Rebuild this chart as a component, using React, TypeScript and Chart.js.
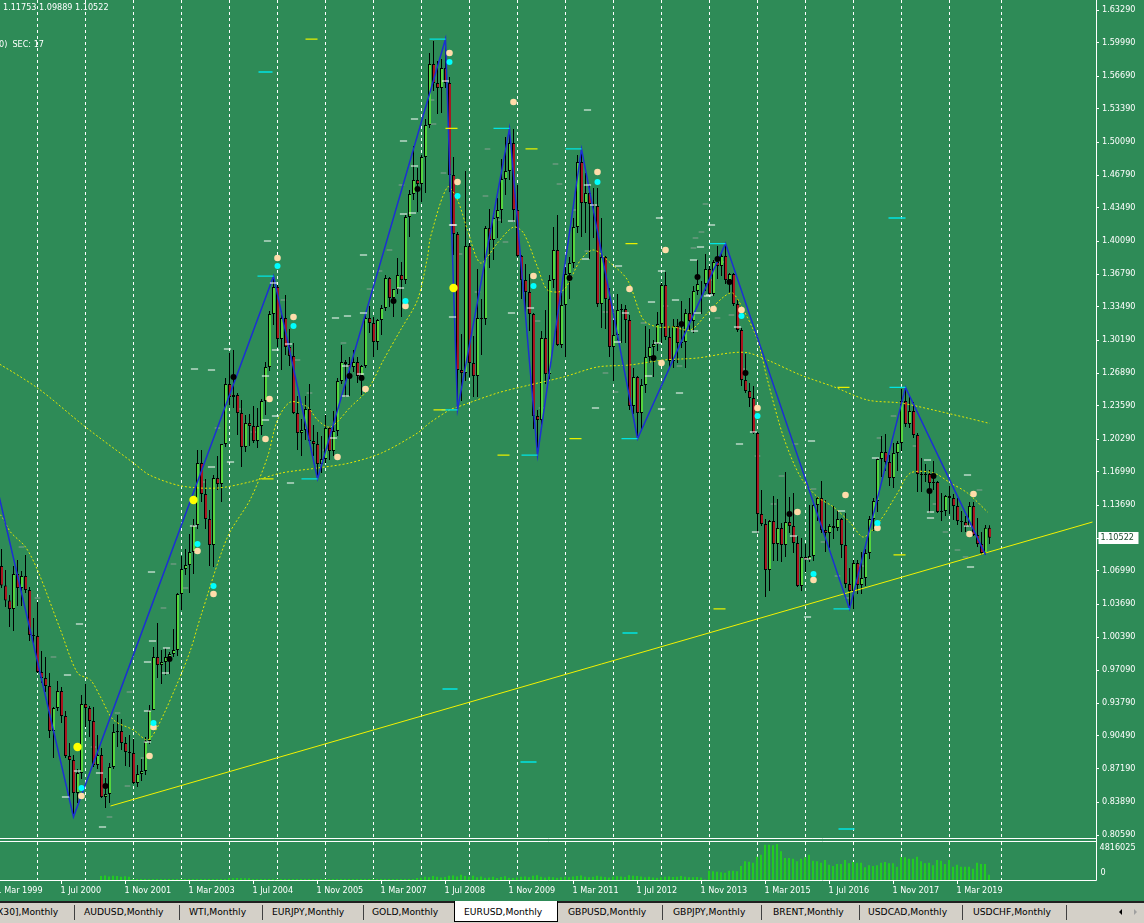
import React, { useEffect, useRef } from 'react';
import { Chart, registerables } from 'chart.js';
Chart.register(...registerables);

// month index: 0 = Jan 1999 ... 250 = Nov 2019
const opens = [
  1.1790,1.1580,1.0995,1.0770,1.0575,1.0425,1.0340,1.0690,1.0550,1.0670,1.0530,1.0080,
  1.0070,0.9710,0.9650,0.9570,0.9120,0.9350,0.9520,0.9270,0.8870,0.8830,0.8500,0.8700,
  0.9390,0.9350,0.9220,0.8780,0.8880,0.8460,0.8490,0.8760,0.9110,0.9120,0.9000,0.8910,
  0.8900,0.8600,0.8690,0.8720,0.9020,0.9330,0.9860,0.9780,0.9810,0.9860,0.9890,0.9930,
  1.0490,1.0740,1.0780,1.0910,1.1180,1.1800,1.1490,1.1240,1.0980,1.1650,1.1590,1.1990,
  1.2590,1.2460,1.2480,1.2300,1.1960,1.2200,1.2170,1.2020,1.2170,1.2420,1.2760,1.3290,
  1.3560,1.3040,1.3250,1.2960,1.2870,1.2300,1.2100,1.2130,1.2340,1.2020,1.1990,1.1790,
  1.1840,1.2150,1.1920,1.2120,1.2620,1.2810,1.2790,1.2760,1.2810,1.2670,1.2770,1.3250,
  1.3200,1.3010,1.3230,1.3350,1.3650,1.3450,1.3540,1.3680,1.3630,1.4260,1.4490,1.4630,
  1.4590,1.4860,1.5180,1.5790,1.5600,1.5550,1.5750,1.5600,1.4680,1.4090,1.2730,1.2700,
  1.3970,1.2800,1.2670,1.3250,1.3240,1.4150,1.4030,1.4250,1.4330,1.4640,1.4720,1.5000,
  1.4330,1.3870,1.3630,1.3510,1.3290,1.2270,1.2230,1.3050,1.2690,1.3630,1.3930,1.2980,
  1.3380,1.3690,1.3800,1.4160,1.4810,1.4400,1.4500,1.4390,1.4370,1.3390,1.3860,1.3440,
  1.2960,1.3080,1.3330,1.3340,1.3230,1.2370,1.2660,1.2300,1.2580,1.2860,1.2960,1.2990,
  1.3190,1.3580,1.3060,1.2820,1.3170,1.3000,1.3010,1.3300,1.3220,1.3520,1.3590,1.3590,
  1.3740,1.3490,1.3810,1.3770,1.3870,1.3630,1.3690,1.3390,1.3130,1.2630,1.2520,1.2450,
  1.2100,1.1290,1.1190,1.0730,1.1220,1.0990,1.1150,1.0980,1.1210,1.1170,1.1000,1.0570,
  1.0860,1.0830,1.0870,1.1380,1.1450,1.1130,1.1100,1.1170,1.1150,1.1240,1.0980,1.0590,
  1.0520,1.0800,1.0580,1.0650,1.0900,1.1240,1.1420,1.1840,1.1910,1.1810,1.1650,1.1900,
  1.2000,1.2420,1.2190,1.2320,1.2080,1.1690,1.1680,1.1690,1.1600,1.1610,1.1310,1.1320,
  1.1470,1.1450,1.1370,1.1220,1.1210,1.1170,1.1370,1.1080,1.0990,1.0900,1.1152,
];
const highs = [
  1.1880,1.1590,1.1030,1.0940,1.0730,1.0480,1.0770,1.0830,1.0720,1.0880,1.0560,1.0250,
  1.0410,0.9920,0.9860,0.9700,0.9360,0.9620,0.9560,0.9320,0.9000,0.8880,0.8740,0.9480,
  0.9590,0.9370,0.9360,0.9080,0.8950,0.8650,0.8800,0.9190,0.9280,0.9240,0.9060,0.9080,
  0.9040,0.8780,0.8840,0.9060,0.9380,0.9960,1.0200,0.9930,0.9950,0.9910,1.0140,1.0500,
  1.0870,1.0940,1.1090,1.1240,1.1930,1.1930,1.1640,1.1330,1.1680,1.1870,1.1990,1.2650,
  1.2900,1.2930,1.2500,1.2430,1.2280,1.2290,1.2370,1.2350,1.2440,1.2810,1.3320,1.3667,
  1.3580,1.3320,1.3480,1.3140,1.3000,1.2470,1.2240,1.2470,1.2590,1.2180,1.2110,1.2070,
  1.2280,1.2160,1.2320,1.2650,1.2980,1.2830,1.2860,1.2930,1.2860,1.2780,1.3280,1.3370,
  1.3260,1.3240,1.3380,1.3680,1.3660,1.3530,1.3850,1.3810,1.4280,1.4530,1.4970,1.4750,
  1.4880,1.5240,1.5900,1.6020,1.5820,1.5840,1.6038,1.5660,1.4860,1.4110,1.3090,1.4720,
  1.4000,1.3070,1.3740,1.3440,1.4170,1.4340,1.4300,1.4450,1.4840,1.5060,1.5145,1.5140,
  1.4580,1.3880,1.3790,1.3690,1.3300,1.2330,1.3120,1.3330,1.3680,1.4160,1.4280,1.3500,
  1.3760,1.3860,1.4250,1.4880,1.4940,1.4700,1.4580,1.4550,1.4550,1.4250,1.3870,1.3550,
  1.3230,1.3490,1.3390,1.3380,1.3280,1.2750,1.2670,1.2640,1.3170,1.3140,1.3030,1.3310,
  1.3600,1.3710,1.3170,1.3240,1.3240,1.3420,1.3340,1.3450,1.3570,1.3830,1.3620,1.3890,
  1.3770,1.3830,1.3970,1.3910,1.3993,1.3700,1.3700,1.3440,1.3150,1.2890,1.2600,1.2570,
  1.2110,1.1530,1.1240,1.1230,1.1470,1.1440,1.1200,1.1710,1.1460,1.1500,1.1070,1.1050,
  1.0990,1.1380,1.1410,1.1460,1.1620,1.1430,1.1190,1.1370,1.1330,1.1250,1.1300,1.0750,
  1.0830,1.0830,1.0910,1.0940,1.1270,1.1450,1.1850,1.2070,1.2090,1.1880,1.2000,1.2020,
  1.2540,1.2555,1.2480,1.2410,1.2100,1.1850,1.1790,1.1730,1.1820,1.1620,1.1500,1.1480,
  1.1570,1.1490,1.1450,1.1320,1.1270,1.1410,1.1410,1.1250,1.1110,1.1180,1.11753,
];
const lows = [
  1.1320,1.0950,1.0710,1.0550,1.0360,1.0160,1.0120,1.0370,1.0370,1.0500,1.0020,0.9990,
  0.9700,0.9600,0.9510,0.9050,0.8850,0.9320,0.9200,0.8850,0.8460,0.8261,0.8400,0.8640,
  0.9160,0.9060,0.8760,0.8740,0.8450,0.8350,0.8400,0.8740,0.8960,0.8930,0.8770,0.8760,
  0.8590,0.8560,0.8620,0.8680,0.8990,0.9330,0.9650,0.9590,0.9680,0.9690,0.9860,0.9870,
  1.0330,1.0680,1.0500,1.0690,1.1140,1.1410,1.1140,1.0770,1.0760,1.1530,1.1410,1.1960,
  1.2380,1.2350,1.2080,1.1760,1.1910,1.1970,1.2000,1.1950,1.2080,1.2280,1.2720,1.3180,
  1.2960,1.2730,1.2880,1.2770,1.2290,1.1930,1.1870,1.2030,1.2000,1.1870,1.1640,1.1700,
  1.1800,1.1830,1.1870,1.2070,1.2590,1.2460,1.2470,1.2710,1.2600,1.2480,1.2750,1.3100,
  1.2860,1.2930,1.3080,1.3320,1.3360,1.3260,1.3490,1.3260,1.3590,1.4060,1.4430,1.4310,
  1.4410,1.4500,1.5150,1.5520,1.5290,1.5300,1.5550,1.4510,1.3880,1.2330,1.2420,1.2620,
  1.2660,1.2460,1.2460,1.2880,1.3180,1.3750,1.3830,1.4050,1.4200,1.4480,1.4630,1.4210,
  1.3860,1.3440,1.3270,1.3120,1.2140,1.1877,1.2150,1.2590,1.2640,1.3550,1.2970,1.2950,
  1.2860,1.3440,1.3750,1.4100,1.4060,1.4100,1.3840,1.4050,1.3360,1.3150,1.3140,1.2860,
  1.2620,1.3030,1.3000,1.3000,1.2330,1.2290,1.2042,1.2130,1.2500,1.2800,1.2660,1.2920,
  1.3000,1.3030,1.2750,1.2750,1.2800,1.2950,1.2750,1.3130,1.3100,1.3480,1.3290,1.3520,
  1.3480,1.3470,1.3640,1.3670,1.3590,1.3500,1.3370,1.3110,1.2570,1.2500,1.2360,1.2090,
  1.1100,1.1170,1.0460,1.0520,1.0820,1.0820,1.0810,1.0860,1.1100,1.0900,1.0560,1.0520,
  1.0710,1.0810,1.0820,1.1220,1.1100,1.0910,1.0950,1.1040,1.1120,1.0850,1.0550,1.0340,
  1.0340,1.0490,1.0490,1.0570,1.0840,1.1120,1.1310,1.1660,1.1720,1.1570,1.1550,1.1720,
  1.1920,1.2160,1.2150,1.2050,1.1510,1.1510,1.1610,1.1300,1.1530,1.1300,1.1220,1.1270,
  1.1290,1.1230,1.1180,1.1110,1.1110,1.1160,1.1070,1.0960,1.0880,1.0879,1.09889,
];
const closes = [
  1.1580,1.0995,1.0770,1.0575,1.0425,1.0340,1.0690,1.0550,1.0670,1.0530,1.0080,1.0070,
  0.9710,0.9650,0.9570,0.9120,0.9350,0.9520,0.9270,0.8870,0.8830,0.8500,0.8700,0.9390,
  0.9350,0.9220,0.8780,0.8880,0.8460,0.8490,0.8760,0.9110,0.9120,0.9000,0.8910,0.8900,
  0.8600,0.8690,0.8720,0.9020,0.9330,0.9860,0.9780,0.9810,0.9860,0.9890,0.9930,1.0490,
  1.0740,1.0780,1.0910,1.1180,1.1800,1.1490,1.1240,1.0980,1.1650,1.1590,1.1990,1.2590,
  1.2460,1.2480,1.2300,1.1960,1.2200,1.2170,1.2020,1.2170,1.2420,1.2760,1.3290,1.3560,
  1.3040,1.3250,1.2960,1.2870,1.2300,1.2100,1.2130,1.2340,1.2020,1.1990,1.1790,1.1840,
  1.2150,1.1920,1.2120,1.2620,1.2810,1.2790,1.2760,1.2810,1.2670,1.2770,1.3250,1.3200,
  1.3010,1.3230,1.3350,1.3650,1.3450,1.3540,1.3680,1.3630,1.4260,1.4490,1.4630,1.4590,
  1.4860,1.5180,1.5790,1.5600,1.5550,1.5750,1.5600,1.4680,1.4090,1.2730,1.2700,1.3970,
  1.2800,1.2670,1.3250,1.3240,1.4150,1.4030,1.4250,1.4330,1.4640,1.4720,1.5000,1.4330,
  1.3870,1.3630,1.3510,1.3290,1.2270,1.2230,1.3050,1.2690,1.3630,1.3930,1.2980,1.3380,
  1.3690,1.3800,1.4160,1.4810,1.4400,1.4500,1.4390,1.4370,1.3390,1.3860,1.3440,1.2960,
  1.3080,1.3330,1.3340,1.3230,1.2370,1.2660,1.2300,1.2580,1.2860,1.2960,1.2990,1.3190,
  1.3580,1.3060,1.2820,1.3170,1.3000,1.3010,1.3300,1.3220,1.3520,1.3590,1.3590,1.3740,
  1.3490,1.3810,1.3770,1.3870,1.3630,1.3690,1.3390,1.3130,1.2630,1.2520,1.2450,1.2100,
  1.1290,1.1190,1.0730,1.1220,1.0990,1.1150,1.0980,1.1210,1.1170,1.1000,1.0570,1.0860,
  1.0830,1.0870,1.1380,1.1450,1.1130,1.1100,1.1170,1.1150,1.1240,1.0980,1.0590,1.0520,
  1.0800,1.0580,1.0650,1.0900,1.1240,1.1420,1.1840,1.1910,1.1810,1.1650,1.1900,1.2000,
  1.2420,1.2190,1.2320,1.2080,1.1690,1.1680,1.1690,1.1600,1.1610,1.1310,1.1320,1.1470,
  1.1450,1.1370,1.1220,1.1210,1.1170,1.1370,1.1080,1.0990,1.0900,1.1152,1.10522,
];
const volumes = [
  0,0,0,0,0,0,0,0,0,0,0,0,
  0,0,0,0,0,0,0,0,0,0,0,0,
  0,0,0,0,520000,610000,480000,560000,530000,450000,500000,420000,
  130000,120000,140000,130000,110000,130000,140000,120000,130000,130000,120000,140000,
  130000,120000,130000,140000,130000,120000,130000,140000,130000,120000,130000,150000,
  260000,240000,280000,220000,250000,230000,140000,130000,120000,140000,130000,120000,
  130000,140000,130000,120000,140000,130000,120000,130000,140000,130000,120000,130000,
  140000,130000,120000,140000,130000,120000,130000,140000,130000,120000,130000,140000,
  130000,120000,140000,130000,120000,130000,140000,130000,120000,130000,140000,260000,
  310000,420000,380000,520000,450000,330000,400000,560000,610000,480000,700000,520000,
  430000,560000,380000,470000,300000,350000,420000,280000,390000,510000,300000,260000,
  350000,420000,470000,380000,560000,640000,430000,330000,450000,380000,300000,360000,
  420000,380000,460000,520000,610000,450000,380000,420000,560000,480000,390000,320000,
  430000,510000,470000,390000,640000,580000,520000,460000,380000,420000,350000,300000,
  370000,420000,480000,390000,450000,520000,430000,380000,360000,410000,330000,60000,
  1244000,1164000,1110000,1030000,977000,1244000,1244000,1164000,1873000,2502000,2448000,2314000,
  3117000,3385000,4722000,4722000,4642000,4816025,3839000,2943000,2943000,2850000,2502000,2850000,
  3037000,3385000,2582000,2502000,2314000,2676000,2047000,1873000,2140000,2140000,2676000,2234000,
  2408000,2314000,2314000,1699000,1967000,1873000,1967000,2314000,2408000,2234000,2234000,1779000,
  3037000,3037000,2850000,2850000,3117000,2502000,2234000,2314000,1967000,2676000,2582000,2140000,
  2676000,1779000,2047000,1779000,1779000,1779000,1512000,2314000,2140000,2140000,709000,
];

// zigzag pivots (month index, price)
const zigzagMonths = [0, 21, 71, 82, 114, 117, 130, 137, 148, 162, 184, 215, 229, 249];
const zigzagPrices = [1.1880, 0.8261, 1.3667, 1.1640, 1.6038, 1.2330, 1.5145, 1.1877, 1.4940, 1.2042, 1.3993, 1.0340, 1.2555, 1.0880];

// slow moving average
const slowMaMonths = [0, 12, 24, 36, 40, 48, 57, 65, 73, 82, 90, 98, 107, 110, 115, 117, 127, 135, 143.5, 152, 160, 168.5, 177, 185, 189.5, 194.5, 202.75, 211, 219.5, 227.75, 236, 244.5, 250];
const slowMaPrices = [1.2849, 1.2549, 1.2159, 1.1799, 1.1679, 1.1569, 1.1549, 1.1609, 1.1699, 1.1749, 1.1799, 1.1899, 1.2099, 1.2199, 1.2329, 1.2359, 1.2499, 1.2579, 1.2659, 1.2759, 1.2779, 1.2829, 1.2849, 1.2899, 1.2902, 1.2829, 1.2679, 1.2562, 1.2429, 1.2399, 1.2329, 1.2249, 1.2195];

// fast moving average
const fastMaMonths = [0, 2.75, 5.25, 9, 12, 17.75, 22, 25.25, 27.75, 31, 36, 39.5, 42, 47, 50.25, 52.75, 59.5, 65.25, 69.5, 72, 75.25, 79.5, 82, 85.25, 90.25, 94.5, 98.5, 102.75, 107, 109.5, 110.25, 114.5, 117, 119.5, 122.75, 127, 131, 133.5, 137, 139.5, 143.5, 147.75, 151, 155.25, 159.5, 163.5, 167, 171, 175.25, 179.5, 183.5, 185.75, 188.5, 192, 194.5, 198.5, 202.75, 207, 211, 215.25, 218.5, 222.75, 227, 230.25, 236, 240.25, 244.5, 249.5];
const fastMaPrices = [1.1340, 1.1279, 1.1109, 1.0959, 1.0729, 1.0129, 0.9699, 0.9629, 0.9459, 0.9229, 0.9129, 0.9029, 0.9159, 0.9599, 0.9929, 1.0259, 1.1059, 1.1439, 1.1859, 1.2229, 1.2409, 1.2359, 1.2229, 1.2159, 1.2359, 1.2529, 1.2829, 1.3129, 1.3429, 1.3859, 1.4059, 1.4559, 1.4429, 1.4129, 1.3799, 1.3999, 1.4159, 1.4099, 1.3759, 1.3529, 1.3529, 1.3829, 1.3929, 1.3799, 1.3629, 1.3229, 1.3159, 1.3159, 1.3129, 1.3299, 1.3459, 1.3499, 1.3329, 1.3029, 1.2629, 1.2059, 1.1659, 1.1459, 1.1359, 1.1199, 1.1059, 1.1229, 1.1499, 1.1699, 1.1699, 1.1599, 1.1499, 1.1309];

// long support trendline
const trendMonths = [30.25, 275.75];
const trendPrices = [0.8369, 1.1209];

// cyan level marks: [fromMonth, toMonth, price]
const cyanMarks = [
  [110, 114, 1.6038], [126, 130, 1.5145], [144, 148, 1.4940], [180, 184, 1.3993], [225, 229, 1.2555],
  [67, 71, 1.3667], [78, 82, 1.1640], [113, 117, 1.2330], [133, 137, 1.1877], [158, 162, 1.2042], [211, 215, 1.0340],
  [67.25, 70.75, 1.5709], [224.75, 229, 1.4249], [158.25, 162, 1.0099], [113.25, 117, 0.9539], [132.75, 136.75, 0.8809], [212.25, 216.25, 0.8139],
];
// yellow level marks
const yellowMarks = [
  [79, 82, 1.6038], [114, 117, 1.5145], [134, 137, 1.4940], [159, 162, 1.3993], [212, 215, 1.2555],
  [145, 148, 1.2042], [127, 130, 1.1877], [111, 114, 1.2330], [226, 229, 1.0880], [181, 184, 1.0340], [68, 71, 1.1640],
];
// white short marks: [month, price]
const whiteMarks = [
  [22.5,1.0189],[19.5,0.9679],[22,0.8719],[19,0.8459],[27.5,0.8699],[28.25,0.8159],[40.5,1.0709],[39.5,0.9809],
  [39.5,0.9319],[39.5,0.9009],[44,0.9699],[40.75,1.0019],[44.25,0.9949],[106.25,1.5239],[103.5,1.5019],[106.25,1.4769],
  [103.5,1.4289],[105.75,1.4299],[114,1.5619],[115.75,1.4179],[130.5,1.4219],[149.5,1.5329],[149.5,1.4579],[151,1.4379],
  [149,1.3839],[179.5,1.3469],[187,1.3159],[187.5,1.1989],[191,1.2109],[191.5,1.1109],[205.5,1.2019],[204.5,1.0839],
  [201,1.1069],[204.5,1.0259],[213,1.1319],[221.5,1.1849],[235.25,1.1309],[235.25,1.1249],[234.5,1.1829],[244.5,1.1679],
  [244.5,1.1169],[245.25,1.0759],[69.5,1.4019],[59.5,1.2939],[51.25,1.2739],[55.5,1.2729],[71,1.3599],[71.5,1.2929],
  [69,1.2669],[69,1.2229],[71.5,1.2269],[60.25,1.1809],[55.5,1.1759],[51,1.1169],[75.25,1.1599],[74.75,1.2989],
  [86.5,1.3249],[89.5,1.3269],[93.5,1.3299],[93.5,1.3879],[89,1.2769],[89,1.2469],[92.75,1.2689],[86,1.2049],
  [102.75,1.3549],[116,1.4179],[115.75,1.3259],[135.25,1.3349],[130.5,1.3299],[157.25,1.3769],[157,1.3009],[159,1.3299],
  [167.5,1.4249],[168,1.3719],[165.5,1.3409],[167,1.2999],[164.75,1.2669],[171.5,1.3429],[176,1.3829],[177,1.3299],
  [176.25,1.3119],[172.5,1.2499],[180,1.3479],[168,1.2339],[151.5,1.2349],[177.75,1.3959],[180.5,1.4179],
];
// faint grey level marks: [month, price]
const greyMarks = [
  [110.5,1.5429],[111,1.5189],[113.5,1.4699],[117.5,1.3889],[122,1.3509],[124.5,1.4939],[124,1.4469],[127.5,1.4229],
  [129,1.4009],[137,1.3219],[138,1.2349],[141.5,1.4789],[142.5,1.4589],[146.5,1.4329],[149.5,1.3919],[154,1.3309],
  [154,1.2699],[156.5,1.2509],[163.5,1.3199],[169,1.3369],[172.5,1.2769],[176.5,1.4049],[179,1.4389],[183,1.3809],
  [176,1.3949],[178,1.4109],[180.5,1.3629],[182,1.3249],[185.5,1.3279],[188.5,1.2739],[192,1.1869],[196,1.1389],
  [198,1.1669],[201.5,1.1989],[206,1.1539],[208.5,1.1009],[212,1.0669],[214.5,1.0449],[218,1.0769],[222.5,1.2049],
  [226,1.2269],[231.5,1.1969],[236.5,1.1389],[239,1.1109],[242,1.0929],[244,1.0859],[247.5,1.1529],[32,0.9299],
  [35,0.9509],[38.5,0.8849],[43.5,1.0349],[46,1.0789],[49,1.0549],[53.5,1.1609],[57,1.2149],[62.5,1.2339],
  [66,1.2109],[73.5,1.3429],[77,1.2829],[80,1.2499],[84,1.1929],[88.5,1.2999],[95,1.3539],[97.5,1.3719],
  [100,1.3929],[103,1.4579],[8,1.0959],[12,1.0449],[16,0.9859],[26,0.8959],[30,0.8259],[34.5,0.8569],
];
// signal dots
const peachDots = [
  [72,1.3849],[76,1.3259],[70,1.2439],[69,1.2039],[94,1.2539],[87,1.1859],[104,1.3369],[115,1.5899],[131,1.5409],
  [117,1.4609],[136,1.3669],[152,1.4709],[160,1.3539],[169,1.3929],[168,1.2799],[181,1.3339],[188,1.3329],[192,1.2349],
  [202,1.1309],[214,1.1479],[206,1.0629],[222,1.1149],[246,1.1489],[245,1.1089],[52,1.0919],[41,0.9159],[40,0.8869],
  [23,0.8469],[56,1.0489],
];
const cyanDots = [
  [72,1.3769],[76,1.3169],[104,1.3419],[115,1.5809],[117,1.4469],[136,1.3569],[152,1.4609],[188,1.3269],[192,1.2269],
  [206,1.0689],[222,1.1199],[52,1.0989],[41,0.9199],[23,0.8549],[56,1.0569],
];
const blackDots = [
  [61,1.2659],[90,1.2669],[93,1.2649],[101,1.3419],[107,1.4539],[145,1.3649],[166,1.2849],[177,1.3659],[173,1.3189],
  [182,1.3839],[185,1.3609],[189,1.2699],[200,1.1289],[236,1.1669],[235,1.1519],[29,0.8569],[45,0.9839],
];
const yellowDots = [[22,0.8959],[51,1.1429],[116,1.3549]];

const priceTickValues = [1.6329,1.5999,1.5669,1.5339,1.5009,1.4679,1.4349,1.4019,1.3689,1.3359,1.3029,1.2699,1.2369,1.2039,1.1709,1.1379,1.1049,1.0719,1.0389,1.0059,0.9729,0.9399,0.9069,0.8739,0.8409,0.8079];
const priceTickLabels = ['1.63290','1.59990','1.56690','1.53390','1.50090','1.46790','1.43490','1.40090','1.36790','1.33490','1.30190','1.26890','1.23590','1.20290','1.16990','1.13690','1.10390','1.06990','1.03690','1.00390','0.97090','0.93790','0.90490','0.87190','0.83890','0.80590'];
const dateTickMonths = [2, 18, 34, 50, 66, 82, 98, 114, 130, 146, 162, 178, 194, 210, 226, 242];
const dateTickLabels = ['1 Mar 1999','1 Jul 2000','1 Nov 2001','1 Mar 2003','1 Jul 2004','1 Nov 2005','1 Mar 2007','1 Jul 2008','1 Nov 2009','1 Mar 2011','1 Jul 2012','1 Nov 2013','1 Mar 2015','1 Jul 2016','1 Nov 2017','1 Mar 2019'];
const yearGridMonths = [12,24,36,48,60,72,84,96,108,120,132,144,156,168,180,192,204,216,228,240,253];
const volumeMaxLabel = '4816025';
const volumeMaxValue = 4816025;
const currentPrice = 1.10522;

const tabs = [
  { t: 'X30],Monthly', x: -3 }, { t: 'AUDUSD,Monthly', x: 84 }, { t: 'WTI,Monthly', x: 189 },
  { t: 'EURJPY,Monthly', x: 272 }, { t: 'GOLD,Monthly', x: 372 }, { t: 'EURUSD,Monthly', x: 464 },
  { t: 'GBPUSD,Monthly', x: 568 }, { t: 'GBPJPY,Monthly', x: 673 }, { t: 'BRENT,Monthly', x: 773 },
  { t: 'USDCAD,Monthly', x: 868 }, { t: 'USDCHF,Monthly', x: 973 },
];
const tabSeparators = [74, 179, 262, 363, 662, 761, 859, 962, 1066];

const AX_FONT = "'DejaVu Sans Condensed', 'DejaVu Sans', sans-serif";
const X_MIN = 2.625;
const X_MAX = 276.625;
const Y_MIN = 0.8049;
const Y_MAX = 1.6429;
const VOL_MAX = 5620000;

function marksToLine(marks: number[][]) {
  const out: any[] = [];
  marks.forEach((m) => {
    out.push({ x: m[0], y: m[2] });
    out.push({ x: m[1], y: m[2] });
    out.push({ x: m[1] + 0.01, y: null });
  });
  return out;
}
function shortMarks(marks: number[][], half: number) {
  const out: any[] = [];
  marks.forEach((m) => {
    out.push({ x: m[0] - half, y: m[1] });
    out.push({ x: m[0] + half, y: m[1] });
    out.push({ x: m[0] + half + 0.01, y: null });
  });
  return out;
}
const pts = (xs: number[], ys: number[]) => xs.map((x, k) => ({ x, y: ys[k] }));
const dots = (arr: number[][]) => arr.map((d) => ({ x: d[0], y: d[1] }));

const overlayPlugin = {
  id: 'mtOverlay',
  beforeDatasetsDraw(chart: any) {
    const { ctx } = chart;
    const xs = chart.scales.x;
    const ys = chart.scales.y;
    const vs = chart.scales.v;
    ctx.save();
    ctx.strokeStyle = '#ffffff';
    ctx.lineWidth = 1;
    ctx.setLineDash([3, 3]);
    yearGridMonths.forEach((m) => {
      const px = Math.floor(xs.getPixelForValue(m)) + 0.5;
      ctx.beginPath();
      ctx.moveTo(px, ys.top);
      ctx.lineTo(px, ys.bottom);
      ctx.moveTo(px, vs.top + 4);
      ctx.lineTo(px, vs.bottom);
      ctx.stroke();
    });
    ctx.restore();
  },
  afterDraw(chart: any) {
    const { ctx } = chart;
    const ys = chart.scales.y;
    const vs = chart.scales.v;
    const right = Math.round(chart.chartArea.right) + 0.5;
    ctx.save();
    ctx.strokeStyle = '#ffffff';
    ctx.lineWidth = 1;
    ctx.beginPath();
    ctx.moveTo(right, 0);
    ctx.lineTo(right, Math.round(vs.bottom) + 0.5);
    const b1 = Math.round(ys.bottom) + 0.5;
    ctx.moveTo(0, b1);
    ctx.lineTo(right, b1);
    ctx.moveTo(0, b1 + 3);
    ctx.lineTo(right, b1 + 3);
    ctx.moveTo(0, Math.round(vs.bottom) + 0.5);
    ctx.lineTo(right, Math.round(vs.bottom) + 0.5);
    ctx.stroke();
    // volume labels
    ctx.fillStyle = '#ffffff';
    ctx.font = `9px ${AX_FONT}`;
    ctx.textBaseline = 'middle';
    ctx.textAlign = 'left';
    ctx.fillText(volumeMaxLabel, right + 3, vs.getPixelForValue(volumeMaxValue) + 4);
    ctx.fillText('0', right + 4, vs.getPixelForValue(0) - 7);
    // current price box
    const py = ys.getPixelForValue(currentPrice);
    ctx.fillStyle = '#ffffff';
    ctx.fillRect(right + 2, Math.round(py) - 6, 40, 12);
    ctx.fillStyle = '#1d4d2f';
    ctx.fillText(currentPrice.toFixed(5), right + 4, Math.round(py));
    ctx.restore();
  },
};

export default function App() {
  const ref = useRef<HTMLCanvasElement>(null);
  useEffect(() => {
    const canvas = ref.current;
    if (!canvas) return;
    const n = opens.length;
    const idx = Array.from({ length: n }, (_, i) => i);
    const BULL = '#55d63e';
    const BEAR = '#a8161f';
    const chart = new Chart(canvas, {
      type: 'bar',
      data: {
        datasets: [
          {
            type: 'bar', label: 'volume', xAxisID: 'x2', yAxisID: 'v', order: 20,
            data: idx.map((i) => ({ x: i, y: volumes[i] })),
            backgroundColor: '#22cc22', barThickness: 2, grouped: false, borderWidth: 0, inflateAmount: 0,
          } as any,
          {
            type: 'line', label: 'greyMarks', yAxisID: 'y', order: 19.5,
            data: shortMarks(greyMarks, 0.7), borderColor: 'rgba(170,170,170,0.75)', borderWidth: 1,
            pointRadius: 0, spanGaps: false, fill: false,
          } as any,
          {
            type: 'bar', label: 'wick', yAxisID: 'y', order: 19,
            data: idx.map((i) => ({ x: i, y: [lows[i], highs[i]] })),
            backgroundColor: '#000000', barThickness: 1, grouped: false, borderWidth: 0, inflateAmount: 0,
          } as any,
          {
            type: 'bar', label: 'body', yAxisID: 'y', order: 18,
            data: idx.map((i) => ({ x: i, y: [opens[i], closes[i]] })),
            backgroundColor: idx.map((i) => (closes[i] >= opens[i] ? BULL : BEAR)),
            borderColor: '#000000', borderWidth: { left: 1, right: 0, top: 1, bottom: 1 }, borderSkipped: false,
            barThickness: 3, grouped: false, inflateAmount: 0,
          } as any,
          {
            type: 'line', label: 'slowMA', yAxisID: 'y', order: 10,
            data: pts(slowMaMonths, slowMaPrices), borderColor: '#e6e600', borderWidth: 1,
            borderDash: [2, 2], pointRadius: 0, tension: 0.3, fill: false,
          } as any,
          {
            type: 'line', label: 'fastMA', yAxisID: 'y', order: 9,
            data: pts(fastMaMonths, fastMaPrices), borderColor: '#e6e600', borderWidth: 1,
            borderDash: [2, 2], pointRadius: 0, tension: 0.3, fill: false,
          } as any,
          {
            type: 'line', label: 'trend', yAxisID: 'y', order: 8,
            data: pts(trendMonths, trendPrices), borderColor: '#f2f200', borderWidth: 1,
            pointRadius: 0, fill: false,
          } as any,
          {
            type: 'line', label: 'zigzag', yAxisID: 'y', order: 7,
            data: pts(zigzagMonths, zigzagPrices), borderColor: '#1c2fd2', borderWidth: 1.5,
            pointRadius: 0, fill: false, tension: 0,
          } as any,
          {
            type: 'line', label: 'whiteMarks', yAxisID: 'y', order: 6,
            data: shortMarks(whiteMarks, 0.9), borderColor: '#ffffff', borderWidth: 1,
            pointRadius: 0, spanGaps: false, fill: false,
          } as any,
          {
            type: 'line', label: 'cyanMarks', yAxisID: 'y', order: 5,
            data: marksToLine(cyanMarks), borderColor: '#00e5e5', borderWidth: 1.3,
            pointRadius: 0, spanGaps: false, fill: false,
          } as any,
          {
            type: 'line', label: 'yellowMarks', yAxisID: 'y', order: 4,
            data: marksToLine(yellowMarks), borderColor: '#e8f000', borderWidth: 1.3,
            pointRadius: 0, spanGaps: false, fill: false,
          } as any,
          {
            type: 'line', label: 'peach', yAxisID: 'y', order: 3, showLine: false,
            data: dots(peachDots), pointRadius: 3.3, pointBackgroundColor: '#ffdcaa', pointBorderWidth: 0,
          } as any,
          {
            type: 'line', label: 'cyanDots', yAxisID: 'y', order: 2, showLine: false,
            data: dots(cyanDots), pointRadius: 3, pointBackgroundColor: '#00ffff', pointBorderWidth: 0,
          } as any,
          {
            type: 'line', label: 'blackDots', yAxisID: 'y', order: 2, showLine: false,
            data: dots(blackDots), pointRadius: 3, pointBackgroundColor: '#000000', pointBorderWidth: 0,
          } as any,
          {
            type: 'line', label: 'yellowDots', yAxisID: 'y', order: 1, showLine: false,
            data: dots(yellowDots), pointRadius: 4.2, pointBackgroundColor: '#ffff00', pointBorderWidth: 0,
          } as any,
        ],
      },
      options: {
        animation: false,
        responsive: false,
        maintainAspectRatio: false,
        events: [],
        layout: { padding: 0, autoPadding: false },
        plugins: { legend: { display: false }, tooltip: { enabled: false }, title: { display: false } },
        scales: {
          x: {
            type: 'linear', min: X_MIN, max: X_MAX, offset: false, position: 'bottom',
            afterBuildTicks: (s: any) => { s.ticks = dateTickMonths.map((v) => ({ value: v })); },
            afterFit: (s: any) => { s.height = 21; s.paddingLeft = 0; s.paddingRight = 0; },
            ticks: {
              autoSkip: false, maxRotation: 0, minRotation: 0, align: 'start', labelOffset: -1, padding: 1,
              color: '#ffffff', font: { family: AX_FONT, size: 9 },
              callback: (v: any) => { const k = dateTickMonths.indexOf(Number(v)); return k >= 0 ? dateTickLabels[k] : ''; },
            },
            grid: { drawOnChartArea: false, drawTicks: true, tickLength: 4, color: '#ffffff', offset: false },
            border: { display: false },
          },
          x2: {
            type: 'linear', min: X_MIN + 0.125, max: X_MAX + 0.125, offset: false, display: false,
          },
          y: {
            type: 'linear', position: 'right', stack: 'panes', stackWeight: 838, min: Y_MIN, max: Y_MAX,
            afterBuildTicks: (s: any) => { s.ticks = priceTickValues.map((v) => ({ value: v })); },
            afterFit: (s: any) => { s.width = 48; s.paddingTop = 0; s.paddingBottom = 0; },
            ticks: {
              color: '#ffffff', padding: 3, font: { family: AX_FONT, size: 9 }, autoSkip: false,
              callback: (v: any) => { const k = priceTickValues.indexOf(Number(v)); return k >= 0 ? priceTickLabels[k] : ''; },
            },
            grid: { drawOnChartArea: false, drawTicks: true, tickLength: 3, color: '#ffffff' },
            border: { display: false },
          },
          v: {
            type: 'linear', position: 'right', stack: 'panes', stackWeight: 42, min: 0, max: VOL_MAX,
            afterFit: (s: any) => { s.width = 48; s.paddingTop = 0; s.paddingBottom = 0; },
            ticks: { display: false },
            grid: { display: false },
            border: { display: false },
          },
        },
      } as any,
      plugins: [overlayPlugin],
    });
    return () => chart.destroy();
  }, []);

  const textStyle: React.CSSProperties = {
    position: 'absolute', color: '#ffffff', fontFamily: AX_FONT, fontSize: 9, lineHeight: '11px', whiteSpace: 'pre',
  };
  return (
    <div style={{ position: 'fixed', left: 0, top: 0, width: 1144, height: 923, background: '#d4d0c8', overflow: 'hidden' }}>
      <canvas ref={ref} width={1144} height={901} style={{ position: 'absolute', left: 0, top: 0, width: 1144, height: 901, background: '#2e8b57' }} />
      <div style={{ ...textStyle, left: 3, top: 2 }}>1.11753 1.09889 1.10522</div>
      <div style={{ ...textStyle, left: -1, top: 39 }}>0)  SEC: 17</div>
      <div style={{ position: 'absolute', left: 0, top: 901, width: 1144, height: 2, background: '#202020' }} />
      {tabSeparators.map((x) => (
        <div key={x} style={{ position: 'absolute', left: x, top: 905, width: 1, height: 15, background: '#404040' }} />
      ))}
      <div style={{ position: 'absolute', left: 454, top: 901, width: 102, height: 20, background: '#ffffff', border: '1px solid #000000', borderTop: 'none' }} />
      {tabs.map((t) => (
        <div key={t.t} style={{ position: 'absolute', left: t.x, top: 906, color: '#000000', fontFamily: "'DejaVu Sans', sans-serif", fontSize: 9.2, lineHeight: '12px', whiteSpace: 'pre' }}>{t.t}</div>
      ))}
      <div style={{ position: 'absolute', left: 1119, top: 909, width: 0, height: 0, borderTop: '3px solid transparent', borderBottom: '3px solid transparent', borderRight: '3px solid #000000' }} />
      <div style={{ position: 'absolute', left: 1134, top: 909, width: 0, height: 0, borderTop: '3px solid transparent', borderBottom: '3px solid transparent', borderLeft: '3px solid #a0a0a0' }} />
    </div>
  );
}
